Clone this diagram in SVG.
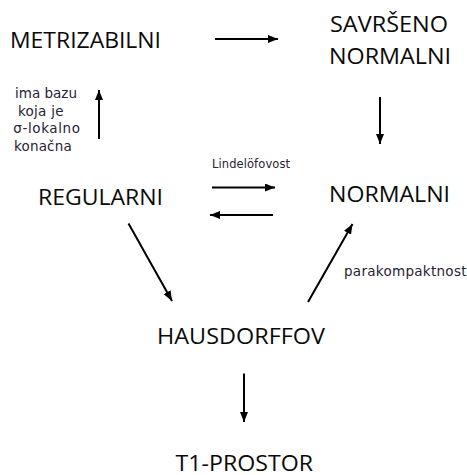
<svg xmlns="http://www.w3.org/2000/svg" width="467" height="475" viewBox="0 0 467 475">
<style>
.big{font-family:"Open Sans","Noto Sans","Liberation Sans",sans-serif;font-size:21.5px;fill:#0a0a0a}
.sm{font-family:"DejaVu Sans","Liberation Sans",sans-serif;font-size:13.5px;fill:#2a2235}
.lbl{font-family:"DejaVu Sans","Liberation Sans",sans-serif;font-size:11.5px;fill:#2a2235}
.edge{stroke:#000;stroke-width:2;fill:none;marker-end:url(#ah)}
</style>
<defs>
<marker id="ah" viewBox="0 0 10 8" refX="10" refY="4" markerWidth="10" markerHeight="8" markerUnits="userSpaceOnUse" orient="auto">
<path d="M0,0 L10,4 L0,8 Z" fill="#000"/>
</marker>
</defs>
<rect width="467" height="475" fill="#fff"/>
<g id="connectors">
<line class="edge" x1="215" y1="39" x2="278" y2="39"/>
<line class="edge" x1="380" y1="97" x2="380" y2="144"/>
<line class="edge" x1="99" y1="139" x2="99" y2="90"/>
<line class="edge" x1="212" y1="187.5" x2="275" y2="187.5"/>
<line class="edge" x1="273" y1="215" x2="210" y2="215"/>
<line class="edge" x1="128.5" y1="223.5" x2="172" y2="301"/>
<line class="edge" x1="308" y1="302" x2="352.5" y2="224"/>
<line class="edge" x1="244" y1="373.5" x2="244" y2="422"/>
</g>
<g id="metrizabilni"><text class="big" x="10" y="47.7" textLength="151" lengthAdjust="spacingAndGlyphs">METRIZABILNI</text></g>
<g id="savrseno-normalni">
<text class="big" x="330" y="31.5" textLength="118" lengthAdjust="spacingAndGlyphs">SAVRŠENO</text>
<text class="big" x="329" y="64" textLength="122" lengthAdjust="spacingAndGlyphs">NORMALNI</text>
</g>
<g id="normalni"><text class="big" x="329" y="201.5" textLength="121" lengthAdjust="spacingAndGlyphs">NORMALNI</text></g>
<g id="regularni"><text class="big" x="38" y="204.5" textLength="125" lengthAdjust="spacingAndGlyphs">REGULARNI</text></g>
<g id="hausdorffov"><text class="big" x="157" y="343.5" textLength="168" lengthAdjust="spacingAndGlyphs">HAUSDORFFOV</text></g>
<g id="t1-prostor"><text class="big" x="175.5" y="470.5" textLength="137.5" lengthAdjust="spacingAndGlyphs">T1-PROSTOR</text></g>
<g id="labels">
<text class="sm" x="15" y="97.5" textLength="62">ima bazu</text>
<text class="sm" x="18" y="115.5" textLength="45.5">koja je</text>
<text class="sm" x="13.3" y="133.3" textLength="66.7">σ-lokalno</text>
<text class="sm" x="14" y="151.2" textLength="57.7">konačna</text>
<text class="lbl" x="212" y="167.7" textLength="78">Lindelöfovost</text>
<text class="sm" x="344" y="275.7" textLength="122.5">parakompaktnost</text>
</g>
</svg>
